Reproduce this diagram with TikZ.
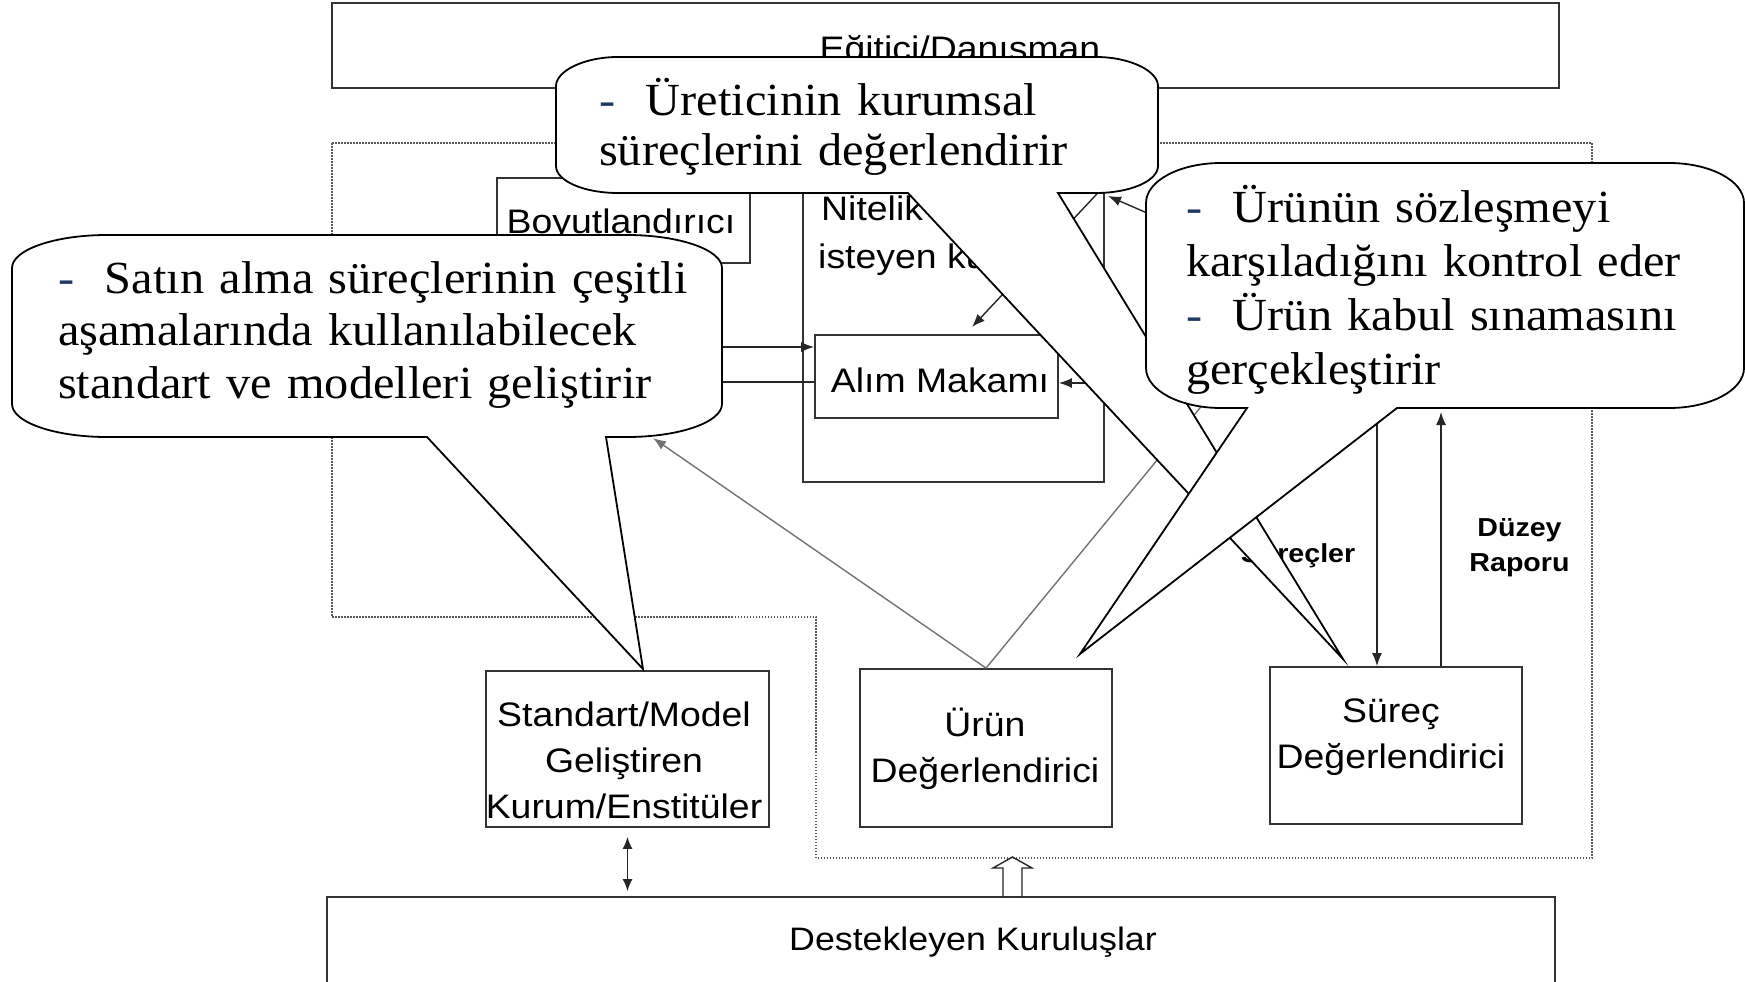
\documentclass[tikz,border=0pt]{standalone}
\usepackage{fontspec}
\usetikzlibrary{arrows.meta}
\newfontfamily\calfont{Liberation Serif}[FakeStretch=1.05]
\newfontfamily\labfont{Liberation Sans}[FakeStretch=1.1]
\definecolor{dashblue}{RGB}{31,56,100}
\begin{document}
\begin{tikzpicture}[x=1pt,y=-1pt,
  boxn/.style={draw=black!80, line width=1.8pt, inner sep=0pt},
  lab/.style={font=\labfont\fontsize{34pt}{46pt}\selectfont, inner sep=0pt, align=center},
  blab/.style={font=\labfont\bfseries\fontsize{26pt}{35pt}\selectfont, inner sep=0pt, align=center},
  conn/.style={line width=1.4pt, draw=black!85},
  gconn/.style={line width=1.4pt, draw=black!55},
  tip/.style={-{Latex[length=13pt,width=10pt]}},
  dotline/.style={draw=black!65, line width=1.5pt, dash pattern=on 1.5pt off 1.5pt},
  callout/.style={draw=black, line width=1.8pt, fill=white},
  ctext/.style={font=\calfont\fontsize{46pt}{#1}\selectfont, inner sep=0pt, align=left, text width=700pt, anchor=base west}
]
\useasboundingbox (0,0) rectangle (1745,982);
\fill[white] (0,0) rectangle (1745,982);

% outer dotted region
\draw[dotline] (332,143) -- (1592,143) -- (1592,858) -- (816,858) -- (816,617) -- (332,617) -- cycle;

% boxes
\node[boxn, minimum width=1227pt, minimum height=85pt] (egitici) at (945.5,45.5) {};
\node[lab, anchor=base] (egtext) at (960,60) {Eğitici/Danışman};
\node[boxn, minimum width=253pt, minimum height=85pt] (boyut) at (623.5,220.5) {};
\node[lab, anchor=base] (boyuttext) at (621,233) {Boyutlandırıcı};
\node[boxn, minimum width=301pt, minimum height=307pt] (nitelik) at (953.5,328.5) {};
\node[lab, anchor=base west] (nit1) at (821,220) {Nitelik};
\node[lab, anchor=base west] (nit2) at (818,268) {isteyen kurum};
\node[boxn, minimum width=243pt, minimum height=83pt] (alim) at (936.5,376.5) {};
\node[lab, anchor=base] (alimtext) at (940,392) {Alım Makamı};
\node[boxn, minimum width=283pt, minimum height=156pt] (std) at (627.5,749) {};
\node[lab] (stdtext) at (624,760) {Standart/Model\\Geliştiren\\Kurum/Enstitüler};
\node[boxn, minimum width=252pt, minimum height=158pt] (urun) at (986,748) {};
\node[lab] (uruntext) at (985,749) {Ürün\\Değerlendirici};
\node[boxn, minimum width=252pt, minimum height=157pt] (surec) at (1396,745.5) {};
\node[lab] (surectext) at (1391,737) {Süreç\\Değerlendirici};
\node[boxn, minimum width=1228pt, minimum height=90pt] (dest) at (941,942) {};
\node[lab, font=\labfont\fontsize{32.5pt}{40pt}\selectfont, anchor=base] (desttext) at (973,950) {Destekleyen Kuruluşlar};

\node[blab] (duzey) at (1519.5,548) {Düzey\\Raporu};
\node[blab, anchor=base] (surecler) at (1298,562) {Süreçler};

% connectors
\coordinate (lsrc1) at (700,347);
\coordinate (lsrc2) at (700,382);
\draw[conn, tip] (lsrc1) -- (lsrc1 -| alim.west);
\draw[conn] (lsrc2) -- (lsrc2 -| alim.west);
\coordinate (tsrc) at (1110,180);
\coordinate (atip) at (972,327);
\draw[conn, tip] (tsrc) -- (atip);
\coordinate (rsrc) at (1160,383);
\draw[conn, tip] (rsrc) -- (rsrc -| alim.east);
\coordinate (nsrc) at (1200,236);
\coordinate (ntip) at (1108,196);
\draw[conn, tip] (nsrc) -- (ntip);
\coordinate (ltip) at (653,438);
\draw[gconn, tip] (urun.north) -- (ltip);
\coordinate (hidsrc) at (1320,262);
\draw[gconn] (urun.north) -- (hidsrc);
\coordinate (dsrc) at (1377,400);
\draw[conn, tip] (dsrc) -- (dsrc |- surec.north);
\coordinate (utip) at (1441,412);
\draw[conn, tip] (surec.north -| utip) -- (utip);
\draw[conn, {Latex[length=12pt,width=10pt]}-{Latex[length=12pt,width=10pt]}, shorten <=9pt, shorten >=5pt] (std.south) -- (std.south |- dest.north);
\coordinate (ha) at (1003,897);
\draw[conn, line join=miter] (ha) -- ++(0,-29) -- ++(-10,0) -- ++(19.5,-11) -- ++(19.5,11) -- ++(-10,0) -- ++(0,29);

% left callout
\draw[callout] (107,235) -- (627,235) .. controls (679.4,235) and (722,249.8) .. (722,268) -- (722,404) .. controls (722,422.2) and (679.4,437) .. (627,437) -- (606,437) -- (643,669) -- (427,437) -- (107,437) .. controls (54.6,437) and (12,422.2) .. (12,404) -- (12,268) .. controls (12,249.8) and (54.6,235) .. (107,235) -- cycle;
\node[ctext=52.5pt] (lefttext) at (58,293) {{\color{dashblue}-}\ \ Satın alma süreçlerinin çeşitli\\aşamalarında kullanılabilecek\\standart ve modelleri geliştirir};

% top callout
\draw[callout] (618,57) -- (1096,57) .. controls (1130.2,57) and (1158,71.1) .. (1158,86) -- (1158,166) .. controls (1158,180.9) and (1130.2,193) .. (1096,193) -- (1058,193) -- (1343,659) -- (908,193) -- (618,193) .. controls (583.8,193) and (556,180.9) .. (556,166) -- (556,86) .. controls (556,71.1) and (583.8,57) .. (618,57) -- cycle;
\node[ctext=50pt] (toptext) at (599,115) {{\color{dashblue}-}\ \ Üreticinin kurumsal\\süreçlerini değerlendirir};

% right callout
\draw[callout] (1221,163) -- (1669,163) .. controls (1710.4,163) and (1744,180.9) .. (1744,203) -- (1744,368) .. controls (1744,390.1) and (1710.4,408) .. (1669,408) -- (1397,408) -- (1080,654) -- (1247,408) -- (1221,408) .. controls (1179.6,408) and (1146,390.1) .. (1146,368) -- (1146,203) .. controls (1146,180.9) and (1179.6,163) .. (1221,163) -- cycle;
\node[ctext=54.3pt] (righttext) at (1186,222) {{\color{dashblue}-}\ \ Ürünün sözleşmeyi\\karşıladığını kontrol eder\\{\color{dashblue}-}\ \ Ürün kabul sınamasını\\gerçekleştirir};
\end{tikzpicture}
\end{document}
